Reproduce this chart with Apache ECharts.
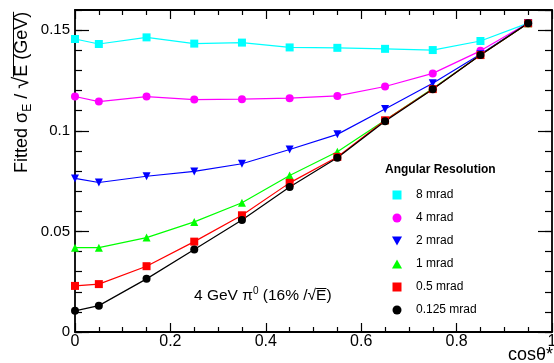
<!DOCTYPE html>
<html>
<head>
<meta charset="utf-8">
<script src="https://cdn.jsdelivr.net/npm/echarts@6/dist/echarts.min.js"></script>
<style>html,body{margin:0;padding:0;background:#fff}#c{width:554px;height:363px}</style>
</head>
<body>
<div id="c"></div>
<script>
const xs = [0, 0.05, 0.15, 0.25, 0.35, 0.45, 0.55, 0.65, 0.75, 0.85, 0.95];
const seriesNames = ['8 mrad', '4 mrad', '2 mrad', '1 mrad', '0.5 mrad', '0.125 mrad'];
const res8 = [0.1456, 0.1431, 0.1464, 0.1433, 0.1438, 0.1414, 0.1412, 0.1407, 0.1401, 0.1446, 0.1535];
const res4 = [0.1170, 0.1145, 0.1170, 0.1155, 0.1157, 0.1162, 0.1173, 0.1220, 0.1285, 0.1397, 0.1535];
const res2 = [0.0763, 0.0743, 0.0774, 0.0798, 0.0836, 0.0907, 0.0982, 0.1108, 0.1236, 0.1380, 0.1535];
const res1 = [0.0419, 0.0419, 0.0469, 0.0547, 0.0642, 0.0778, 0.0896, 0.1052, 0.1210, 0.1376, 0.1534];
const res05 = [0.0229, 0.0238, 0.0327, 0.0449, 0.0580, 0.0741, 0.0870, 0.1052, 0.1207, 0.1376, 0.1534];
const res0125 = [0.0105, 0.0131, 0.0264, 0.0410, 0.0557, 0.0721, 0.0866, 0.1047, 0.1206, 0.1376, 0.1534];
const xTickLabels = ['0', '0.2', '0.4', '0.6', '0.8', '1'];
const yTickLabels = ['0', '0.05', '0.1', '0.15'];

const allValues = [res8, res4, res2, res1, res05, res0125];
const colors = ['#00ffff', '#ff00ff', '#0000ff', '#00ff00', '#ff0000', '#000000'];
const SQ = 'path://M0,0H10V10H0Z';
const UP = 'path://M5,0L10,9H0Z';
const DOWN = 'path://M0,0L10,0L5,9Z';
const symbols = [SQ, 'circle', DOWN, UP, SQ, 'circle'];
const FONT = "'Liberation Sans', Arial, Helvetica, sans-serif";

const overline = {
  type: 'linear', x: 0, y: 0, x2: 0, y2: 1,
  colorStops: [
    {offset: 0, color: '#000'}, {offset: 0.08, color: '#000'},
    {offset: 0.08, color: 'rgba(0,0,0,0)'}, {offset: 1, color: 'rgba(0,0,0,0)'}
  ]
};

const chart = echarts.init(document.getElementById('c'), null, {renderer: 'canvas'});

function fmtX(v) { const i = xTickLabels.indexOf(String(+v.toFixed(4))); return i >= 0 ? xTickLabels[i] : ''; }
function fmtY(v) { const i = yTickLabels.indexOf(String(+v.toFixed(4))); return i >= 0 ? yTickLabels[i] : ''; }

const series = seriesNames.map((n, k) => ({
  name: n,
  type: 'line',
  xAxisIndex: 0,
  yAxisIndex: 0,
  data: xs.map((x, i) => [x, allValues[k][i]]),
  symbol: symbols[k],
  symbolSize: 8,
  showSymbol: true,
  animation: false,
  lineStyle: {color: colors[k], width: 1.2},
  itemStyle: {color: colors[k]},
  emphasis: {disabled: true}
}));

const axisLineStyle = {show: true, onZero: false, lineStyle: {color: '#000', width: 1.8}};

const option = {
  animation: false,
  grid: {left: 75, right: 2, top: 10, bottom: 31, outerBoundsMode: 'none'},
  xAxis: [
    {
      type: 'value', min: 0, max: 1, interval: 0.2, position: 'bottom',
      axisLine: axisLineStyle,
      axisTick: {inside: true, length: 9, lineStyle: {color: '#000', width: 1.2}},
      minorTick: {show: true, splitNumber: 4, length: 5, lineStyle: {color: '#000', width: 1.2}},
      splitLine: {show: false}, minorSplitLine: {show: false},
      axisLabel: {color: '#000', fontSize: 16, fontFamily: FONT, margin: 2, formatter: fmtX,
                  alignMinLabel: 'center', alignMaxLabel: 'center'}
    },
    {
      type: 'value', min: 0, max: 1, interval: 0.2, position: 'top',
      axisLine: axisLineStyle,
      axisTick: {inside: true, length: 9, lineStyle: {color: '#000', width: 1.2}},
      minorTick: {show: true, splitNumber: 4, length: 5, lineStyle: {color: '#000', width: 1.2}},
      splitLine: {show: false}, axisLabel: {show: false}
    }
  ],
  yAxis: [
    {
      type: 'value', min: 0, max: 0.16, interval: 0.05, position: 'left',
      axisLine: axisLineStyle,
      axisTick: {inside: true, length: 14, lineStyle: {color: '#000', width: 1.2}},
      splitLine: {show: false},
      axisLabel: {color: '#000', fontSize: 15, fontFamily: FONT, margin: 5, showMaxLabel: false, formatter: fmtY}
    },
    {
      type: 'value', min: 0, max: 0.16, interval: 0.01, position: 'left',
      axisLine: {show: false, onZero: false},
      axisTick: {inside: true, length: 7, lineStyle: {color: '#000', width: 1.2}},
      splitLine: {show: false}, axisLabel: {show: false}
    },
    {
      type: 'value', min: 0, max: 0.16, interval: 0.05, position: 'right',
      axisLine: axisLineStyle,
      axisTick: {inside: true, length: 14, lineStyle: {color: '#000', width: 1.2}},
      splitLine: {show: false}, axisLabel: {show: false}
    },
    {
      type: 'value', min: 0, max: 0.16, interval: 0.01, position: 'right',
      axisLine: {show: false, onZero: false},
      axisTick: {inside: true, length: 7, lineStyle: {color: '#000', width: 1.2}},
      splitLine: {show: false}, axisLabel: {show: false}
    }
  ],
  legend: {
    orient: 'vertical',
    left: 387, top: 184,
    itemWidth: 28, itemHeight: 9, itemGap: 11,
    symbolKeepAspect: true,
    selectedMode: false,
    textStyle: {color: '#000', fontSize: 12, fontFamily: FONT},
    data: seriesNames.map((n, k) => ({name: n, icon: symbols[k]}))
  },
  graphic: [
    {
      type: 'text', x: 22, y: 173, rotation: Math.PI / 2, silent: true,
      style: {
        text: '{a|Fitted σ}{s|E}{a| / }{r|√}{o|E (GeV)}',
        align: 'left', verticalAlign: 'middle', fill: '#000',
        rich: {
          a: {fontSize: 18, fontFamily: FONT, lineHeight: 24, fill: '#000'},
          s: {fontSize: 12, fontFamily: FONT, lineHeight: 12, verticalAlign: 'bottom', fill: '#000'},
          r: {fontSize: 22, fontFamily: FONT, lineHeight: 24, fill: '#000'},
          o: {fontSize: 18, fontFamily: FONT, lineHeight: 15, fill: '#000', backgroundColor: overline}
        }
      }
    },
    {
      type: 'text', x: 194, y: 296, silent: true,
      style: {
        text: '{a|4 GeV π}{p|0}{a| (16% /√}{o|E}{a|)}',
        align: 'left', verticalAlign: 'middle', fill: '#000',
        rich: {
          a: {fontSize: 15.5, fontFamily: FONT, lineHeight: 20, fill: '#000'},
          p: {fontSize: 10, fontFamily: FONT, lineHeight: 10, verticalAlign: 'top', fill: '#000'},
          o: {fontSize: 15.5, fontFamily: FONT, lineHeight: 13, fill: '#000', backgroundColor: overline}
        }
      }
    },
    {
      type: 'text', x: 385, y: 170, silent: true,
      style: {text: 'Angular Resolution', fontSize: 12, fontWeight: 'bold', fontFamily: FONT, fill: '#000', align: 'left', verticalAlign: 'middle'}
    },
    {
      type: 'text', x: 553, y: 355, silent: true,
      style: {text: 'cosθ*', fontSize: 18, fontFamily: FONT, fill: '#000', align: 'right', verticalAlign: 'middle'}
    }
  ],
  series: series
};
chart.setOption(option);
</script>
</body>
</html>
